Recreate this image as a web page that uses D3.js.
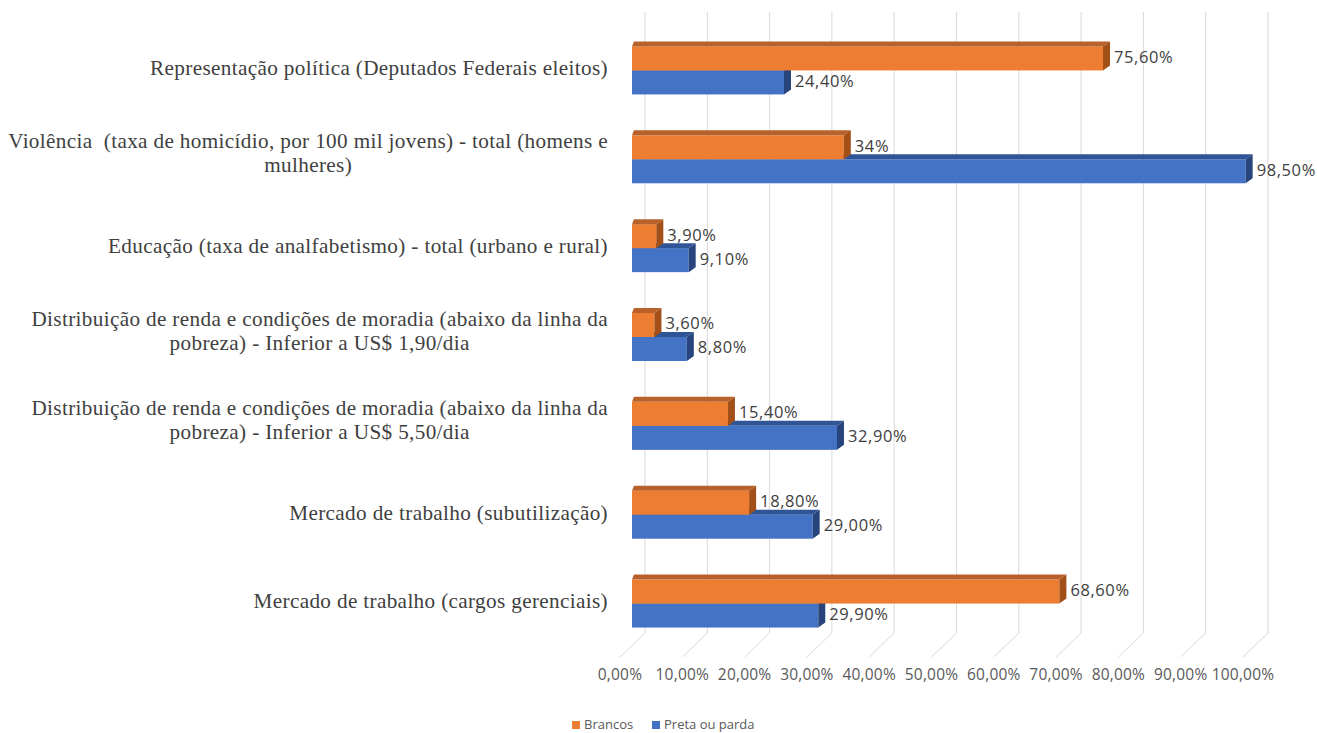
<!DOCTYPE html>
<html>
<head>
<meta charset="utf-8">
<script src="https://cdn.jsdelivr.net/npm/d3@7"></script>
<style>
  body { margin: 0; background: #fff; }
  svg { display: block; }
  .cat text { white-space: pre; }
</style>
</head>
<body>
<svg id="chart" width="1317" height="733"></svg>
<script>
const categories = [
  "Representação política (Deputados Federais eleitos)",
  "Violência  (taxa de homicídio, por 100 mil jovens) - total (homens e|mulheres)",
  "Educação (taxa de analfabetismo) - total (urbano e rural)",
  "Distribuição de renda e condições de moradia (abaixo da linha da|pobreza) - Inferior a US$ 1,90/dia",
  "Distribuição de renda e condições de moradia (abaixo da linha da|pobreza) - Inferior a US$ 5,50/dia",
  "Mercado de trabalho (subutilização)",
  "Mercado de trabalho (cargos gerenciais)"
];
const series = ["Brancos", "Preta ou parda"];
const brancos = [75.6, 34, 3.9, 3.6, 15.4, 18.8, 68.6];
const pretaParda = [24.4, 98.5, 9.1, 8.8, 32.9, 29.0, 29.9];
const brancosLabels = ["75,60%", "34%", "3,90%", "3,60%", "15,40%", "18,80%", "68,60%"];
const pretaLabels = ["24,40%", "98,50%", "9,10%", "8,80%", "32,90%", "29,00%", "29,90%"];
const ticks = [0, 10, 20, 30, 40, 50, 60, 70, 80, 90, 100];
const tickLabels = ["0,00%", "10,00%", "20,00%", "30,00%", "40,00%", "50,00%", "60,00%", "70,00%", "80,00%", "90,00%", "100,00%"];

const colors = {
  "Brancos": { front: "#ED7D31", top: "#b9612a", side: "#a34f18" },
  "Preta ou parda": { front: "#4472C4", top: "#2f5597", side: "#27457c" }
};

const svg = d3.select("#chart");

const x = d3.scaleLinear().domain([0, 100]).range([632, 1255]);
const y = d3.scaleBand().domain(categories).range([26, 648]);
const sy = d3.scaleBand().domain(series).range([-24, 24]);

// depth offsets of the 3D look
const backDx = 13, wallTop = 12, wallBottom = 633;
const floorDx = -12, floorY = 657;
const dxL = 2, dxR = 7, dy = 5;

// gridlines: back wall verticals + floor diagonals
const grid = svg.append("g");
ticks.forEach(t => {
  grid.append("line")
    .attr("x1", x(t) + backDx).attr("x2", x(t) + backDx)
    .attr("y1", wallTop).attr("y2", wallBottom)
    .attr("stroke", "#d9d9d9").attr("stroke-width", 1);
  grid.append("line")
    .attr("x1", x(t) + backDx).attr("y1", wallBottom)
    .attr("x2", x(t) + floorDx).attr("y2", floorY)
    .attr("stroke", "#d9d9d9").attr("stroke-width", 1);
});

// tick labels
svg.append("g").selectAll("text")
  .data(ticks)
  .enter().append("text")
  .attr("x", d => x(d) + floorDx)
  .attr("y", 676)
  .attr("text-anchor", "middle")
  .attr("dominant-baseline", "middle")
  .attr("font-family", "'Open Sans', sans-serif")
  .attr("font-size", "15.5px")
  .attr("letter-spacing", "0.2px")
  .attr("fill", "#595959")
  .text((d, i) => tickLabels[i]);

// bars
function drawBar(g, v, yTop, c) {
  const x0 = x(0), x1 = x(v), h = 24;
  g.append("rect")
    .attr("x", x0).attr("y", yTop).attr("width", x1 - x0).attr("height", h)
    .attr("fill", c.front);
  g.append("polygon")
    .attr("points", [[x0, yTop], [x0 + dxL, yTop - dy], [x1 + dxR, yTop - dy], [x1, yTop]].join(" "))
    .attr("fill", c.top);
  g.append("polygon")
    .attr("points", [[x1, yTop], [x1 + dxR, yTop - dy], [x1 + dxR, yTop + h - dy], [x1, yTop + h]].join(" "))
    .attr("fill", c.side);
}

const bars = svg.append("g");
const valueLabels = svg.append("g")
  .attr("font-family", "'Open Sans', sans-serif")
  .attr("font-size", "16.5px")
  .attr("letter-spacing", "0.6px")
  .attr("fill", "#404040");

categories.forEach((cat, i) => {
  const cy = y(cat) + y.bandwidth() / 2;
  const rows = [
    { s: "Preta ou parda", v: pretaParda[i], label: pretaLabels[i] },
    { s: "Brancos", v: brancos[i], label: brancosLabels[i] }
  ];
  rows.forEach(r => {
    const yTop = cy + sy(r.s);
    drawBar(bars, r.v, yTop, colors[r.s]);
  });
  rows.forEach(r => {
    const yTop = cy + sy(r.s);
    valueLabels.append("text")
      .attr("x", x(r.v) + dxR + 4)
      .attr("y", yTop + sy.bandwidth() / 2)
      .attr("dominant-baseline", "middle")
      .text(r.label);
  });
});

// category labels: block right-aligned, lines centred within block
const catLabels = svg.append("g")
  .attr("class", "cat")
  .attr("font-family", "'Liberation Serif', 'Times New Roman', serif")
  .attr("font-size", "21.2px")
  .attr("letter-spacing", "0.35px")
  .attr("fill", "#404040");
const labelRight = 608, lineH = 24;
categories.forEach(cat => {
  const lines = cat.split("|");
  const cy = y(cat) + y.bandwidth() / 2 - (lines.length > 1 ? 4 : 0);
  const g = catLabels.append("g");
  const texts = lines.map((ln, j) => g.append("text")
    .attr("y", cy + (j - (lines.length - 1) / 2) * lineH)
    .attr("dominant-baseline", "middle")
    .attr("text-anchor", "middle")
    .text(ln));
  const w = d3.max(texts, t => t.node().getComputedTextLength());
  texts.forEach(t => t.attr("x", labelRight - w / 2));
});

// legend
const legend = svg.append("g")
  .attr("font-family", "'Open Sans', sans-serif")
  .attr("font-size", "13px")
  .attr("fill", "#595959");
const legendX = [572, 652];
series.forEach((s, i) => {
  legend.append("rect")
    .attr("x", legendX[i]).attr("y", 721).attr("width", 8).attr("height", 8)
    .attr("fill", colors[s].front);
  legend.append("text")
    .attr("x", legendX[i] + 12).attr("y", 726)
    .attr("dominant-baseline", "middle")
    .text(s);
});
</script>
</body>
</html>
